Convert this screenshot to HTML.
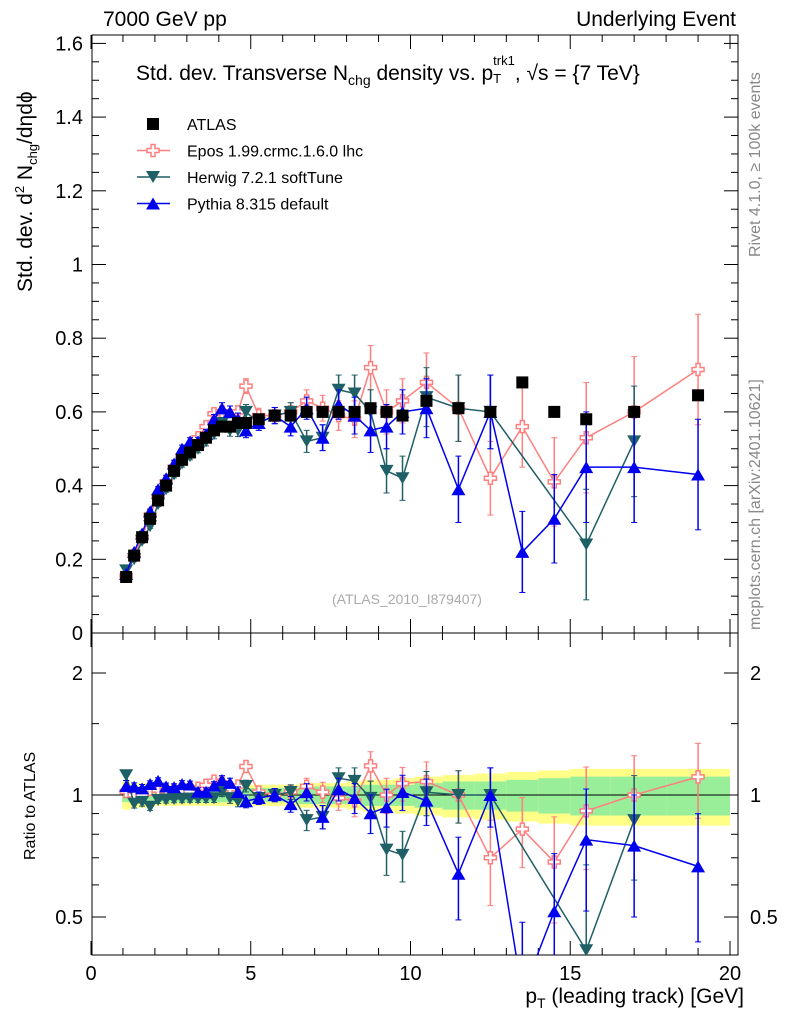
<!DOCTYPE html>
<html><head><meta charset="utf-8"><style>
html,body{margin:0;background:#fff;overflow:hidden;width:786px;height:1024px;}
svg text{font-family:"Liberation Sans",sans-serif;}
</style></head><body>
<svg id="c" width="786" height="1024" viewBox="0 0 786 1024" xmlns="http://www.w3.org/2000/svg" style="position:absolute;left:0;top:0"></svg>
<script>
const xs=[1.1,1.35,1.6,1.85,2.1,2.35,2.6,2.85,3.1,3.35,3.6,3.85,4.1,4.35,4.6,4.85,5.25,5.75,6.25,6.75,7.25,7.75,8.25,8.75,9.25,9.75,10.5,11.5,12.5,13.5,14.5,15.5,17,19];
const atlas=[0.152,0.21,0.26,0.31,0.36,0.40,0.44,0.47,0.49,0.51,0.53,0.55,0.56,0.56,0.57,0.57,0.58,0.59,0.59,0.60,0.60,0.60,0.60,0.61,0.60,0.59,0.63,0.61,0.60,0.68,0.60,0.58,0.60,0.645];
const epos=[0.155,0.21,0.26,0.32,0.37,0.41,0.45,0.48,0.50,0.53,0.56,0.595,0.60,0.58,0.60,0.67,0.59,0.59,0.60,0.63,0.61,0.59,0.58,0.72,0.60,0.63,0.68,0.61,0.42,0.56,0.41,0.53,0.60,0.715];
const herwig=[0.17,0.20,0.25,0.29,0.35,0.39,0.43,0.46,0.48,0.50,0.52,0.54,0.57,0.55,0.55,0.60,0.57,0.59,0.60,0.52,0.53,0.66,0.65,0.60,0.44,0.42,0.64,0.61,0.60,null,null,0.24,0.52,null];
const pythia=[0.16,0.22,0.27,0.33,0.39,0.42,0.46,0.50,0.52,0.52,0.54,0.58,0.61,0.60,0.58,0.55,0.57,0.59,0.56,0.61,0.53,0.62,0.59,0.55,0.56,0.60,0.61,0.39,0.60,0.22,0.31,0.45,0.45,0.43];
const mcErr=[0.005,0.005,0.006,0.006,0.007,0.008,0.009,0.01,0.01,0.011,0.012,0.013,0.015,0.016,0.017,0.02,0.02,0.022,0.025,0.03,0.035,0.04,0.05,0.06,0.06,0.06,0.08,0.09,0.1,0.11,0.12,0.15,0.15,0.15];
const bandIn=[0.04,0.04,0.04,0.04,0.04,0.04,0.04,0.04,0.04,0.04,0.04,0.04,0.04,0.04,0.04,0.04,0.04,0.04,0.04,0.05,0.05,0.05,0.05,0.06,0.06,0.06,0.07,0.08,0.08,0.09,0.1,0.11,0.11,0.11];
const bandOut=[0.08,0.07,0.07,0.07,0.06,0.06,0.06,0.06,0.06,0.06,0.06,0.06,0.06,0.06,0.06,0.06,0.06,0.06,0.06,0.07,0.07,0.07,0.08,0.09,0.09,0.1,0.11,0.12,0.13,0.14,0.15,0.16,0.16,0.16];
const xTicks=[0,5,10,15,20];
const yTicks=[0,0.2,0.4,0.6,0.8,1,1.2,1.4,1.6];
const rTicks=[0.5,1,2];
const svg=document.getElementById('c');
const NS='http://www.w3.org/2000/svg';
function el(t,a,p){const e=document.createElementNS(NS,t);for(const k in a)e.setAttribute(k,a[k]);(p||svg).appendChild(e);return e;}
const X0=92,X1=738,Y0=35,Y1=633,R1=955;
const sx=v=>91+31.95*v;
const sy=v=>633-368.5*v;
const sr=v=>795-122*Math.log2(v);
function half(i){const l=i>0?xs[i]-xs[i-1]:xs[1]-xs[0];const r=i<xs.length-1?xs[i+1]-xs[i]:l;return [l/2,r/2];}
const bg=el('g',{});
xs.forEach((x,i)=>{const [l,r]=half(i);
 el('rect',{x:sx(x-l),width:sx(x+r)-sx(x-l),y:sr(1+bandOut[i]),height:sr(1-bandOut[i])-sr(1+bandOut[i]),fill:'#ffff88'},bg);
 el('rect',{x:sx(x-l),width:sx(x+r)-sx(x-l),y:sr(1+bandIn[i]),height:sr(1-bandIn[i])-sr(1+bandIn[i]),fill:'#99ee99'},bg);});
el('line',{x1:X0,x2:X1,y1:sr(1),y2:sr(1),stroke:'#000'});
let f=el('rect',{x:X0,y:Y0,width:X1-X0,height:Y1-Y0,fill:'none',stroke:'#000'});
f=el('rect',{x:X0,y:Y1,width:X1-X0,height:R1-Y1,fill:'none',stroke:'#000'});
for(let v=0;v<=20.01;v+=1){const big=v%5===0;[Y1,R1].forEach(yb=>{el('line',{x1:sx(v),x2:sx(v),y1:yb,y2:yb-(big?14:7),stroke:'#000'});});
 [Y0,Y1].forEach(yt=>{el('line',{x1:sx(v),x2:sx(v),y1:yt,y2:yt+(big?14:7),stroke:'#000'});});}
xTicks.forEach(v=>{const t=el('text',{x:sx(v),y:980,'font-size':20,'text-anchor':'middle'});t.textContent=v;});
for(let v=0;v<=1.6001;v+=0.05){const big=Math.abs(v*5-Math.round(v*5))<1e-6;el('line',{x1:X0,x2:X0+(big?14:7),y1:sy(v),y2:sy(v),stroke:'#000'});el('line',{x1:X1,x2:X1-(big?14:7),y1:sy(v),y2:sy(v),stroke:'#000'});}
yTicks.forEach(v=>{const t=el('text',{x:83,y:sy(v)+7,'font-size':20,'text-anchor':'end'});t.textContent=v;});
[0.5,0.6,0.7,0.8,0.9,1,1.5,2].forEach(v=>{const big=[0.5,1,2].includes(v);el('line',{x1:X0,x2:X0+(big?14:7),y1:sr(v),y2:sr(v),stroke:'#000'});el('line',{x1:X1,x2:X1-(big?14:7),y1:sr(v),y2:sr(v),stroke:'#000'});});
rTicks.forEach(v=>{let t=el('text',{x:83,y:sr(v)+7,'font-size':20,'text-anchor':'end'});t.textContent=v;
 t=el('text',{x:750,y:sr(v)+7,'font-size':20});t.textContent=v;});
const defs=el('defs',{});el('rect',{x:X0,y:Y0,width:X1-X0,height:Y1-Y0},el('clipPath',{id:'cm'},defs));el('rect',{x:X0,y:Y1,width:X1-X0,height:R1-Y1},el('clipPath',{id:'cr'},defs));
function marker(g,type,x,y,col){
 if(type==='sq')el('rect',{x:x-6,y:y-6,width:12,height:12,fill:'#000'},g);
 else if(type==='cross')el('path',{d:`M${x-2},${y-6}h4v4h4v4h-4v4h-4v-4h-4v-4h4z`,fill:'#fff',stroke:col,'stroke-width':1.5},g);
 else if(type==='dn')el('path',{d:`M${x-7},${y-6}h14l-7,12z`,fill:col},g);
 else el('path',{d:`M${x-7},${y+6}h14l-7,-12z`,fill:col},g);
}
function series(name,vals,col,type,isData){
 ['main','ratio'].forEach(panel=>{
  const g=el('g',{'clip-path':panel==='main'?'url(#cm)':'url(#cr)'});
  
  const Y=panel==='main'?(i=>sy(vals[i])):(i=>sr(vals[i]/atlas[i]));
  const E=panel==='main'?((i,s)=>sy(vals[i]+s*mcErr[i])):((i,s)=>sr((vals[i]+s*mcErr[i])/atlas[i]));
  if(!isData){let d='';xs.forEach((x,i)=>{if(vals[i]==null)return;d+=(d?'L':'M')+sx(x)+','+Y(i);});el('path',{d,fill:'none',stroke:col,'stroke-width':1.5},g);
   xs.forEach((x,i)=>{if(vals[i]==null)return;el('line',{x1:sx(x),x2:sx(x),y1:E(i,1),y2:E(i,-1),stroke:col,'stroke-width':1.5},g);
    el('line',{x1:sx(x)-3,x2:sx(x)+3,y1:E(i,1),y2:E(i,1),stroke:col},g);el('line',{x1:sx(x)-3,x2:sx(x)+3,y1:E(i,-1),y2:E(i,-1),stroke:col},g);});}
  if(isData&&panel==='ratio')return;
  xs.forEach((x,i)=>{if(vals[i]==null)return;marker(g,type,sx(x),Y(i),col);});
 });
}
series('epos',epos,'#ff7f7f','cross');
series('herwig',herwig,'#1f5f66','dn');
series('pythia',pythia,'#0000ee','up');
series('atlas',atlas,'#000','sq',true);
const lg=el('g',{});
[['ATLAS','#000','sq'],['Epos 1.99.crmc.1.6.0 lhc','#ff7f7f','cross'],['Herwig 7.2.1 softTune','#1f5f66','dn'],['Pythia 8.315 default','#0000ee','up']].forEach((l,i)=>{
 const y=124+26.5*i;const ge=el('g',{},lg);
 if(i>0)el('line',{x1:137,x2:170,y1:y,y2:y,stroke:l[1],'stroke-width':1.5},ge);
 marker(ge,l[2],153,y,l[1]);const t=el('text',{x:187,y:y+6,'font-size':16},ge);t.textContent=l[0];});
</script>
<div style="position:absolute;left:0;top:0;width:786px;height:1024px;overflow:hidden;font-family:'Liberation Sans',sans-serif;pointer-events:none">
<div style="position:absolute;left:103px;top:8px;font-size:21px">7000 GeV pp</div>
<div style="position:absolute;right:50px;top:8px;font-size:21px">Underlying Event</div>
<div style="position:absolute;left:136px;top:62px;font-size:21px;white-space:nowrap">Std. dev. Transverse N<sub style="font-size:14px">chg</sub> density vs. p<span style="display:inline-block;vertical-align:middle;line-height:10px;font-size:13px"><span style="position:relative;top:-8px">trk1</span><br><span>T</span></span>, √s = {7 TeV}</div>
<div style="position:absolute;left:12px;top:292px;font-size:21px;transform-origin:0 0;transform:rotate(-90deg);white-space:nowrap">Std. dev. d<sup style="font-size:13px">2</sup> N<sub style="font-size:13px">chg</sub>/dηdϕ</div>
<div style="position:absolute;left:22px;top:860px;font-size:16px;transform-origin:0 0;transform:rotate(-90deg);white-space:nowrap">Ratio to ATLAS</div>
<div style="position:absolute;right:42px;top:985px;font-size:21px">p<sub style="font-size:14px">T</sub> (leading track) [GeV]</div>
<div style="position:absolute;left:332px;top:591px;font-size:14px;color:#aaa">(ATLAS_2010_I879407)</div>
<div style="position:absolute;left:747px;top:257px;font-size:16px;color:#888;transform-origin:0 0;transform:rotate(-90deg);white-space:nowrap">Rivet 4.1.0, ≥ 100k events</div>
<div style="position:absolute;left:747px;top:630px;font-size:16px;color:#888;transform-origin:0 0;transform:rotate(-90deg);white-space:nowrap">mcplots.cern.ch [arXiv:2401.10621]</div>
</div>
</body></html>
